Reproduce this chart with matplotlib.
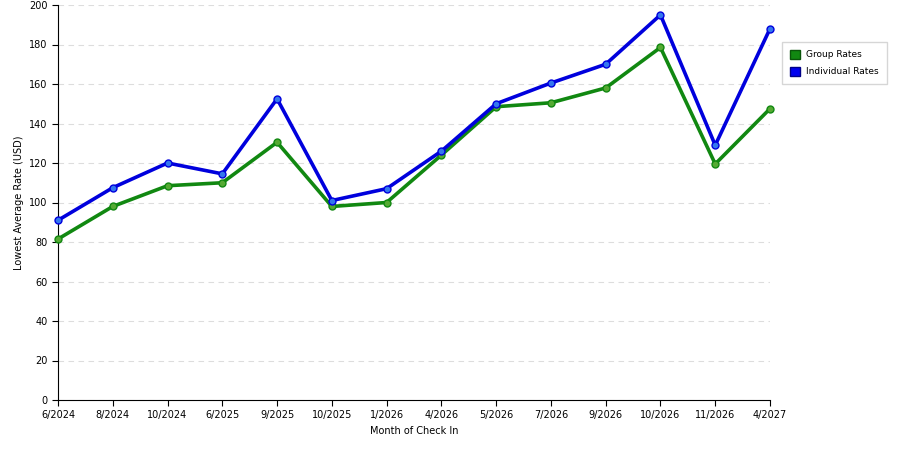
import matplotlib
matplotlib.use("Agg")
import matplotlib.pyplot as plt
from matplotlib.patches import Patch

months = ["6/2024","8/2024","10/2024","6/2025","9/2025","10/2025","1/2026","4/2026","5/2026","7/2026","9/2026","10/2026","11/2026","4/2027"]
group = [81.5,98,108.5,110,130.5,98,100,124,148.5,150.5,158,178.5,119.5,147.5]
indiv = [91,107.5,120,114.5,152.5,101,107,126,150,160.5,170,195,129,188]

fig = plt.figure(figsize=(9,4.5), dpi=100)
ax = fig.add_axes([58/900, 50/450, 712/900, 395/450])
x = list(range(len(months)))
ax.plot(x, group, color="#118811", lw=2.6, marker="o", ms=5, mfc="#55aa33", mec="#118811", zorder=3, clip_on=False)
ax.plot(x, indiv, color="#0000dd", lw=2.6, marker="o", ms=5, mfc="#3377ee", mec="#0000dd", zorder=3, clip_on=False)
ax.set_xlim(0, len(months)-1)
ax.set_ylim(0, 200)
ax.set_yticks(range(0, 201, 20))
ax.set_xticks(x)
ax.set_xticklabels(months)
ax.tick_params(labelsize=7, length=4)
ax.grid(axis="y", ls=(0,(5,4)), color="#dddddd", lw=0.8)
ax.set_axisbelow(True)
for s in ["top","right"]:
    ax.spines[s].set_visible(False)
ax.set_xlabel("Month of Check In", fontsize=7)
ax.set_ylabel("Lowest Average Rate (USD)", fontsize=7)
handles = [Patch(facecolor="#118811", edgecolor="#0a550a", label="Group Rates"),
           Patch(facecolor="#0000ee", edgecolor="#000088", label="Individual Rates")]
fig.legend(handles=handles, loc="upper left", bbox_to_anchor=(777/900, 1-37/450), fontsize=6.5,
           frameon=True, fancybox=False, edgecolor="#cccccc", handlelength=1.2, handleheight=1.2,
           borderpad=0.9, labelspacing=0.8, handletextpad=0.6)
fig.savefig("out.png", dpi=100)
